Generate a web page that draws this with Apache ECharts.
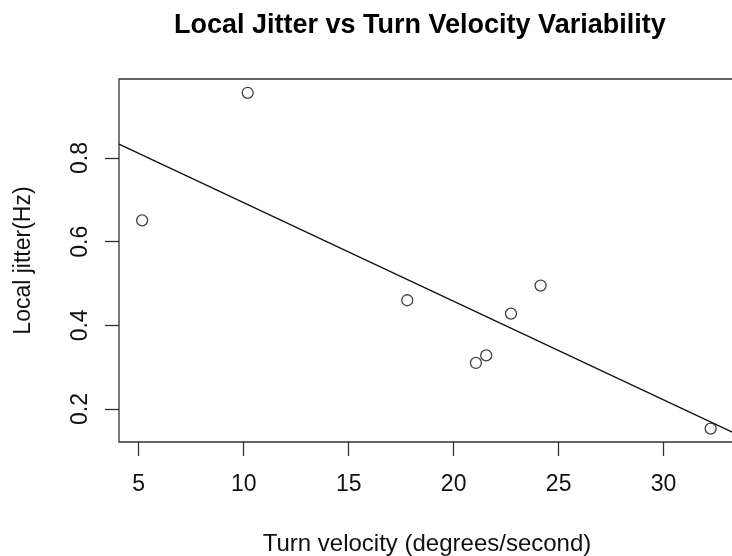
<!DOCTYPE html>
<html>
<head>
<meta charset="utf-8">
<script src="https://cdn.jsdelivr.net/npm/echarts@6/dist/echarts.min.js"></script>
<style>
html, body { margin: 0; padding: 0; background: #fff; }
#main { width: 732px; height: 556px; }
</style>
</head>
<body>
<div id="main"></div>
<script>
// turn velocity (deg/s) vs local jitter (Hz)
var turnVelocity = [5.16, 10.19, 17.79, 21.06, 21.55, 22.73, 24.14, 32.24];
var localJitter = [0.651, 0.956, 0.460, 0.310, 0.328, 0.428, 0.495, 0.153];
var xTicks = [5, 10, 15, 20, 25, 30];
var yTicks = [0.2, 0.4, 0.6, 0.8];

var xMin = 4.06, xMax = 33.4;
var yMin = 0.121, yMax = 0.989;

// least squares fit (abline(lm(y ~ x)))
function fitLine(xs, ys) {
	var n = xs.length, mx = 0, my = 0;
	for (var i = 0; i < n; i++) { mx += xs[i]; my += ys[i]; }
	mx /= n; my /= n;
	var sxy = 0, sxx = 0;
	for (var i = 0; i < n; i++) {
		sxy += (xs[i] - mx) * (ys[i] - my);
		sxx += (xs[i] - mx) * (xs[i] - mx);
	}
	var b = sxy / sxx;
	return { a: my - b * mx, b: b };
}

var fit = fitLine(turnVelocity, localJitter);
var points = [];
for (var i = 0; i < turnVelocity.length; i++) {
	points.push([turnVelocity[i], localJitter[i]]);
}
var fitData = [[xMin, fit.a + fit.b * xMin], [xMax, fit.a + fit.b * xMax]];

var myChart = echarts.init(document.getElementById('main'));
var font = 'Liberation Sans, Arial, sans-serif';
var option = {
	animation: false,
	title: {
		text: 'Local Jitter vs Turn Velocity Variability',
		left: 169,
		top: 7,
		textStyle: { fontFamily: font, fontSize: 27, fontWeight: 'bold', color: '#000' }
	},
	grid: {
		left: 119,
		top: 79,
		bottom: 114,
		right: -3,
		outerBoundsMode: 'none',
		containLabel: false,
		show: true,
		borderColor: '#333',
		borderWidth: 1.3,
		backgroundColor: 'transparent'
	},
	xAxis: {
		type: 'value',
		min: xMin,
		max: xMax,
		splitLine: { show: false },
		axisLine: { show: false },
		axisTick: { show: true, length: 14, customValues: xTicks, lineStyle: { color: '#333', width: 1.3 } },
		axisLabel: { customValues: xTicks, margin: 31, fontFamily: font, fontSize: 23, color: '#111' },
		name: 'Turn velocity (degrees/second)',
		nameLocation: 'middle',
		nameGap: 90,
		nameTextStyle: { fontFamily: font, fontSize: 24, color: '#111' }
	},
	yAxis: {
		type: 'value',
		min: yMin,
		max: yMax,
		splitLine: { show: false },
		axisLine: { show: false },
		axisTick: { show: true, length: 14, customValues: yTicks, lineStyle: { color: '#333', width: 1.3 } },
		axisLabel: { customValues: yTicks, rotate: 90, margin: 27, fontFamily: font, fontSize: 23, color: '#111' },
		name: 'Local jitter(Hz)',
		nameLocation: 'middle',
		nameGap: 84,
		nameTextStyle: { fontFamily: font, fontSize: 23, color: '#111' }
	},
	series: [
		{
			type: 'line',
			data: fitData,
			showSymbol: false,
			symbol: 'none',
			lineStyle: { color: '#111', width: 1.3 },
			z: 1
		},
		{
			type: 'scatter',
			data: points,
			symbol: 'circle',
			symbolSize: 11,
			itemStyle: { color: '#fff', borderColor: '#111', borderWidth: 1.3 },
			z: 2
		}
	]
};
myChart.setOption(option, true);
</script>
</body>
</html>
